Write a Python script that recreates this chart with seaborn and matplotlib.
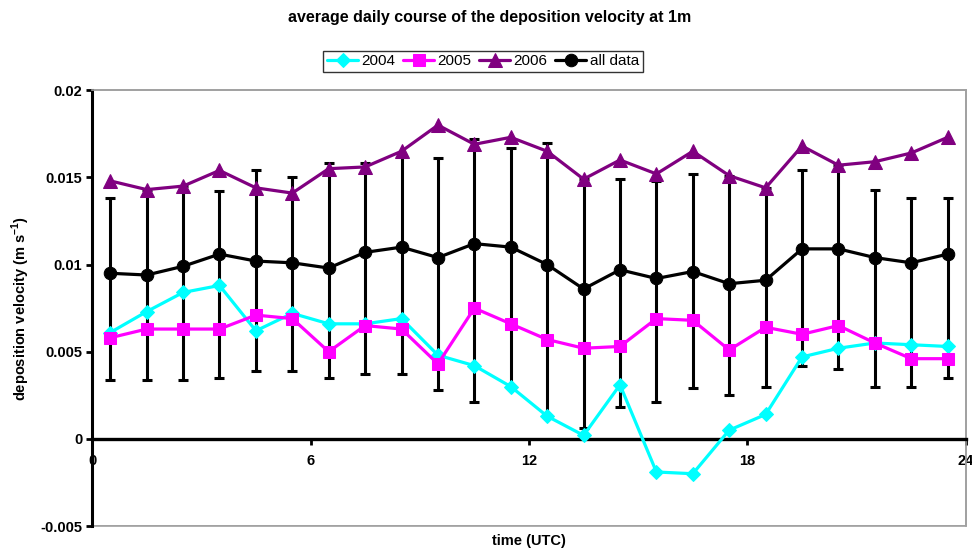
import matplotlib
matplotlib.use("Agg")
import matplotlib.pyplot as plt
import seaborn as sns

# Hour of day (UTC), bin centres
hours = [0.5, 1.5, 2.5, 3.5, 4.5, 5.5, 6.5, 7.5, 8.5, 9.5, 10.5, 11.5,
         12.5, 13.5, 14.5, 15.5, 16.5, 17.5, 18.5, 19.5, 20.5, 21.5, 22.5, 23.5]

# Mean deposition velocity per hour (m s-1)
v2004 = [0.0061, 0.0073, 0.0084, 0.0088, 0.0062, 0.0072, 0.0066, 0.0066,
         0.0069, 0.0048, 0.0042, 0.0030, 0.0013, 0.0002, 0.0031, -0.0019,
         -0.0020, 0.0005, 0.0014, 0.0047, 0.0052, 0.0055, 0.0054, 0.0053]
v2005 = [0.0058, 0.0063, 0.0063, 0.0063, 0.0071, 0.0069, 0.0050, 0.0065,
         0.0063, 0.0043, 0.0075, 0.0066, 0.0057, 0.0052, 0.0053, 0.0069,
         0.0068, 0.0051, 0.0064, 0.0060, 0.0065, 0.0055, 0.0046, 0.0046]
v2006 = [0.0148, 0.0143, 0.0145, 0.0154, 0.0144, 0.0141, 0.0155, 0.0156,
         0.0165, 0.0180, 0.0169, 0.0173, 0.0165, 0.0149, 0.0160, 0.0152,
         0.0165, 0.0151, 0.0144, 0.0168, 0.0157, 0.0159, 0.0164, 0.0173]
v_all = [0.0095, 0.0094, 0.0099, 0.0106, 0.0102, 0.0101, 0.0098, 0.0107,
         0.0110, 0.0104, 0.0112, 0.0110, 0.0100, 0.0086, 0.0097, 0.0092,
         0.0096, 0.0089, 0.0091, 0.0109, 0.0109, 0.0104, 0.0101, 0.0106]

# Spread of all data: upper and lower bounds
all_upper = [0.0138, 0.0143, 0.0145, 0.0142, 0.0154, 0.0150, 0.0158, 0.0158,
             0.0163, 0.0161, 0.0172, 0.0167, 0.0170, 0.0149, 0.0149, 0.0148,
             0.0152, 0.0151, 0.0144, 0.0154, 0.0157, 0.0143, 0.0138, 0.0138]
all_lower = [0.0034, 0.0034, 0.0034, 0.0035, 0.0039, 0.0039, 0.0035, 0.0037,
             0.0037, 0.0028, 0.0021, 0.0030, 0.0013, 0.0006, 0.0018, 0.0021,
             0.0029, 0.0025, 0.0030, 0.0042, 0.0040, 0.0030, 0.0030, 0.0035]

x_ticks = [0, 6, 12, 18, 24]
y_ticks = [-0.005, 0, 0.005, 0.01, 0.015, 0.02]
y_tick_labels = ["-0.005", "0", "0.005", "0.01", "0.015", "0.02"]

sns.set_style("white")
plt.rcParams["font.family"] = ["Liberation Sans", "DejaVu Sans"]
plt.rcParams["font.weight"] = "bold"
plt.rcParams["text.color"] = "black"
plt.rcParams["axes.labelcolor"] = "black"
plt.rcParams["xtick.color"] = "black"
plt.rcParams["ytick.color"] = "black"

fig = plt.figure(figsize=(9.72, 5.53), dpi=100)
ax = fig.add_axes([0.0947, 0.0488, 0.899, 0.788])

# Error bars behind the lines
yerr = [[m - lo for m, lo in zip(v_all, all_lower)],
        [hi - m for m, hi in zip(v_all, all_upper)]]
ax.errorbar(hours, v_all, yerr=yerr, fmt="none", ecolor="black",
            elinewidth=2.2, capsize=3.5, capthick=2.2, zorder=1)

series = [
    ("2004", v2004, "#00FFFF", "D", 7.5, 3),
    ("2005", v2005, "#FF00FF", "s", 8.5, 4),
    ("2006", v2006, "#800080", "^", 9.5, 5),
    ("all data", v_all, "black", "o", 9, 2),
]
for name, vals, col, mk, ms, z in series:
    sns.lineplot(x=hours, y=vals, color=col, marker=mk, markersize=ms,
                 markeredgecolor=col, linewidth=2.3, ax=ax, zorder=z,
                 label=name, legend=False)

# Frame: thin grey border, black value axis, category axis at zero
ax.patch.set_edgecolor("#A0A0A0")
ax.patch.set_linewidth(1.2)
for s in ["top", "right"]:
    ax.spines[s].set_color("#A0A0A0")
    ax.spines[s].set_linewidth(1.2)
ax.spines["left"].set_color("black")
ax.spines["left"].set_linewidth(2.2)
ax.spines["bottom"].set_position(("data", 0))
ax.spines["bottom"].set_color("black")
ax.spines["bottom"].set_linewidth(2.4)
ax.axhline(-0.005, color="#A0A0A0", linewidth=1.2, zorder=0.5)

ax.set_xlim(0, 24)
ax.set_ylim(-0.005, 0.02)
ax.set_xticks(x_ticks)
ax.set_xticklabels([str(t) for t in x_ticks])
ax.set_yticks(y_ticks)
ax.set_yticklabels(y_tick_labels)
ax.tick_params(axis="y", direction="out", length=4, width=2, color="black",
               pad=3, left=True, labelsize=10.5, labelcolor="black")
ax.tick_params(axis="x", direction="out", length=4, width=2, color="black",
               pad=7, bottom=True, labelsize=10.5, labelcolor="black")
for lab in ax.get_xticklabels() + ax.get_yticklabels():
    lab.set_fontweight("bold")

ax.set_xlabel("time (UTC)", fontweight="bold", fontsize=10.5, color="black")
ax.xaxis.set_label_coords(0.5, -0.018)
ax.set_ylabel("deposition velocity (m s$^{\\mathregular{-1}}$)",
              fontweight="bold", fontsize=10.5, labelpad=6, color="black")

fig.text(0.504, 0.969, "average daily course of the deposition velocity at 1m",
         ha="center", va="center", fontweight="bold", fontsize=11.5,
         color="black")

h, l = ax.get_legend_handles_labels()
leg = fig.legend(h, l, ncol=4, loc="center", bbox_to_anchor=(0.497, 0.889),
                 frameon=True, fancybox=False, edgecolor="black",
                 prop={"size": 11, "weight": "normal"}, handlelength=2.0,
                 columnspacing=0.5, handletextpad=0.25, borderpad=0.25,
                 borderaxespad=0)
leg.get_frame().set_linewidth(1.0)
for t in leg.get_texts():
    t.set_color("black")

fig.savefig("out.png", dpi=100)
